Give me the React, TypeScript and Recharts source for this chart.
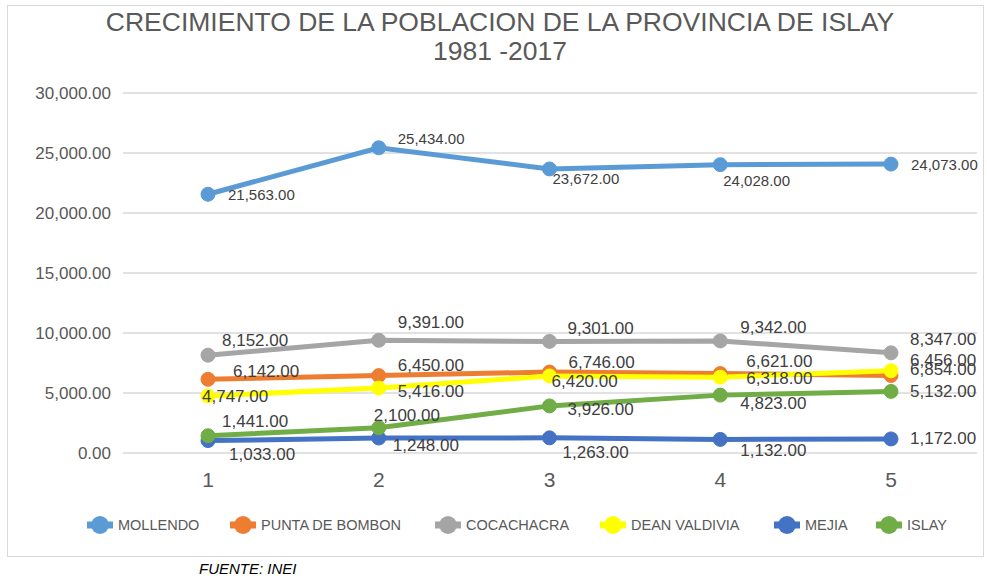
import React from 'react';
import { LineChart, Line, XAxis, YAxis, CartesianGrid, LabelList } from 'recharts';

const categories = ['1', '2', '3', '4', '5'];
const mollendo = [21563, 25434, 23672, 24028, 24073];
const puntaDeBombon = [6142, 6450, 6746, 6621, 6456];
const cocachacra = [8152, 9391, 9301, 9342, 8347];
const deanValdivia = [4747, 5416, 6420, 6318, 6854];
const mejia = [1033, 1248, 1263, 1132, 1172];
const islay = [1441, 2100, 3926, 4823, 5132];
const yTicks = [0, 5000, 10000, 15000, 20000, 25000, 30000];

const seriesDefs = [
  { key: 'mollendo', name: 'MOLLENDO', values: mollendo, color: '#5B9BD5', fs: 15,
    off: [[20, 0], [19, -9], [3, 10], [3, 16], [20, 0]] },
  { key: 'punta', name: 'PUNTA DE BOMBON', values: puntaDeBombon, color: '#ED7D31', fs: 17,
    off: [[25, -8], [19, -10], [19, -10], [26, -12], [19, -15]] },
  { key: 'coca', name: 'COCACHACRA', values: cocachacra, color: '#A5A5A5', fs: 17,
    off: [[14, -15], [19, -18], [18, -13], [20, -13], [19, -13]] },
  { key: 'dean', name: 'DEAN VALDIVIA', values: deanValdivia, color: '#FFFF00', fs: 17,
    off: [[-6, 0], [19, 3], [2, 6], [26, 1], [19, -1]] },
  { key: 'mejia', name: 'MEJIA', values: mejia, color: '#4472C4', fs: 17,
    off: [[21, 14], [14, 7], [13, 15], [20, 11], [19, 0]] },
  { key: 'islay', name: 'ISLAY', values: islay, color: '#70AD47', fs: 17,
    off: [[14, -14], [-5, -12], [18, 4], [20, 8], [19, 0]] },
];

const data = categories.map((c, i) => {
  const row: any = { cat: c };
  seriesDefs.forEach((s) => { row[s.key] = s.values[i]; });
  return row;
});

const fmt = (v: number) => v.toLocaleString('en-US', { minimumFractionDigits: 2, maximumFractionDigits: 2 });
const FONT = '"Liberation Sans", Arial, sans-serif';

const makeLabel = (s: any) => (props: any) => {
  const { x, y, value, index } = props;
  const o = s.off[index] || [10, 0];
  return (
    <text x={x + o[0]} y={y + o[1]} dominantBaseline="central" textAnchor="start"
      fontSize={s.fs} fill="#404040" fontFamily={FONT}>{fmt(value)}</text>
  );
};

const YTick = (props: any) => {
  const { y, payload } = props;
  return (
    <text x={111} y={y} textAnchor="end" dominantBaseline="central" fontSize={17}
      fill="#595959" fontFamily={FONT}>{fmt(payload.value)}</text>
  );
};

const XTick = (props: any) => {
  const { x, payload } = props;
  return (
    <text x={x} y={479} textAnchor="middle" dominantBaseline="central" fontSize={21}
      fill="#595959" fontFamily={FONT}>{payload.value}</text>
  );
};

const legendPos = [100, 243, 448, 613, 787, 889];

export default function App() {
  return (
    <div style={{ position: 'fixed', left: 0, top: 0, width: 987, height: 576, background: '#fff', fontFamily: FONT }}>
      <div style={{ position: 'absolute', left: 7, top: 5, width: 977, height: 552, border: '1px solid #d9d9d9', boxSizing: 'border-box' }} />
      <div style={{ position: 'absolute', left: 0, top: 8, width: 1000, textAlign: 'center', fontSize: 26.5, color: '#595959', lineHeight: '29px' }}>
        CRECIMIENTO DE LA POBLACION DE LA PROVINCIA DE ISLAY<br />1981 -2017
      </div>
      <div style={{ position: 'absolute', left: 0, top: 0 }}>
        <LineChart width={987} height={576} data={data} margin={{ top: 93, right: 10, bottom: 93, left: 0 }}>
          <CartesianGrid vertical={false} stroke="#d9d9d9" strokeWidth={1.5} />
          <XAxis dataKey="cat" axisLine={false} tickLine={false} tick={<XTick />} height={30} padding={{ left: 85, right: 86 }} />
          <YAxis domain={[0, 30000]} ticks={yTicks} axisLine={false} tickLine={false} tick={<YTick />} width={123} />
          {seriesDefs.map((s) => (
            <Line key={s.key} dataKey={s.key} name={s.name} stroke={s.color} strokeWidth={5}
              dot={{ r: 7, fill: s.color, stroke: s.color, strokeWidth: 1 }} isAnimationActive={false}>
              <LabelList dataKey={s.key} content={makeLabel(s)} />
            </Line>
          ))}
        </LineChart>
      </div>
      <svg style={{ position: 'absolute', left: 0, top: 0 }} width={987} height={576}>
        {seriesDefs.map((s, i) => (
          <g key={s.key}>
            <line x1={legendPos[i] - 13} x2={legendPos[i] + 13} y1={525} y2={525} stroke={s.color} strokeWidth={7} />
            <circle cx={legendPos[i]} cy={525} r={9} fill={s.color} />
            <text x={legendPos[i] + 18} y={525} dominantBaseline="central" fontSize={14.5} fill="#595959" fontFamily={FONT}>{s.name}</text>
          </g>
        ))}
        <text x={199} y={568} dominantBaseline="central" fontSize={15} fontStyle="italic" fill="#000" fontFamily={FONT}>FUENTE: INEI</text>
      </svg>
    </div>
  );
}
